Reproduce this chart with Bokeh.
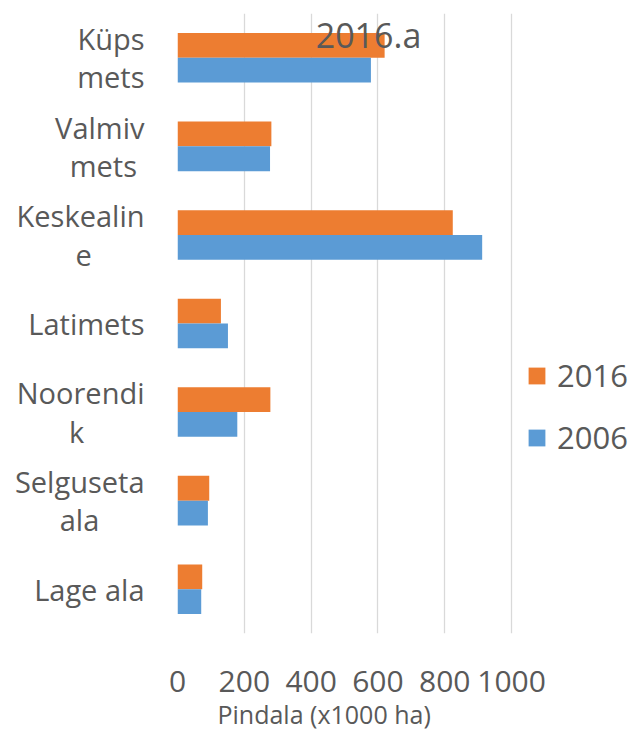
from bokeh.plotting import figure
from bokeh.models import (ColumnDataSource, FactorRange, Range1d, Legend, LegendItem,
                          Label, FixedTicker, Title)
from bokeh.transform import dodge
from bokeh.embed import file_html
from bokeh.resources import INLINE

categories = ["Küps\nmets", "Valmiv\nmets", "Keskealin\ne", "Latimets",
              "Noorendi\nk", "Selguseta\nala", "Lage ala"]
values_2016 = [620, 281, 824, 130, 278, 95, 74]
values_2006 = [579, 277, 912, 151, 179, 91, 71]
x_ticks = [0, 200, 400, 600, 800, 1000]
title_text = "2016.a"
x_label = "Pindala (x1000 ha)"

FONT = "Open Sans"
TXT = "#595959"
ORANGE = "#ED7D31"
BLUE = "#5B9BD5"
NB = "\u00a0"
ZW = "\u200b"

# Excel centres each wrapped line inside the right-aligned label block;
# Bokeh right-aligns every line, so the shorter lines get trailing no-break spaces.
pad = {"Valmiv\nmets": 1, "Keskealin\ne": 7, "Noorendi\nk": 8, "Selguseta\nala": 6}
factors = [c + NB * pad[c] + ZW if c in pad else c for c in categories]

source = ColumnDataSource(dict(cat=factors, v2016=values_2016, v2006=values_2006))

# plot frame: 0..1000 axis, extra room on the right holds the legend
p = figure(width=628, height=730, output_backend="svg", toolbar_location=None,
           y_range=FactorRange(factors=list(reversed(factors))),
           x_range=Range1d(0, 1350),
           min_border_left=177, min_border_right=0, min_border_top=13,
           min_border_bottom=94)
p.outline_line_color = None
p.background_fill_color = "white"
p.border_fill_color = "white"

r1 = p.hbar(y=dodge("cat", 0.14, range=p.y_range), right="v2016", left=0, height=0.28,
            source=source, fill_color=ORANGE, line_color=None)
r2 = p.hbar(y=dodge("cat", -0.14, range=p.y_range), right="v2006", left=0, height=0.28,
            source=source, fill_color=BLUE, line_color=None)

p.ygrid.grid_line_color = None
p.xgrid.grid_line_color = "#D9D9D9"
p.xgrid.grid_line_width = 1.3
p.xaxis.ticker = FixedTicker(ticks=x_ticks)

for ax in (p.xaxis[0], p.yaxis[0]):
    ax.axis_line_color = None
    ax.major_tick_line_color = None
    ax.minor_tick_line_color = None
    ax.major_tick_out = 0
    ax.major_tick_in = 0
    ax.major_label_text_font = FONT
    ax.major_label_text_color = TXT

p.yaxis.major_label_text_font_size = "29px"
p.yaxis.major_label_text_line_height = 0.98
p.yaxis.major_label_standoff = 33
p.xaxis.major_label_text_font_size = "30px"
p.xaxis.major_label_standoff = 37

xlab = Title(text=x_label, align="left", offset=40, standoff=0,
             text_font=FONT, text_font_size="25px", text_font_style="normal",
             text_color=TXT)
p.add_layout(xlab, "below")

legend = Legend(items=[LegendItem(label="2016", renderers=[r1]),
                       LegendItem(label="2006", renderers=[r2])],
                location=(349, 175), orientation="vertical",
                glyph_width=21, glyph_height=21, label_standoff=10,
                label_text_font=FONT, label_text_font_size="31px",
                label_text_color=TXT, border_line_color=None,
                background_fill_alpha=0, padding=0, margin=0, spacing=20)
p.add_layout(legend, "center")

title = Label(x=191, y=599, x_units="screen", y_units="screen", text=title_text,
              text_align="center", text_baseline="alphabetic",
              text_font=FONT, text_font_size="34px", text_color=TXT)
p.add_layout(title)

open("out.html", "w").write(file_html(p, INLINE))
